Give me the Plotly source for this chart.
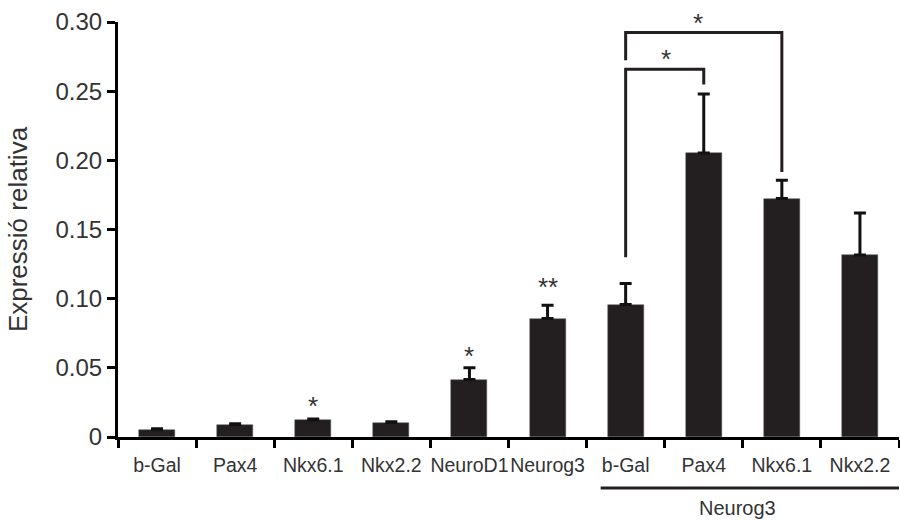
import plotly.graph_objects as go

# ---- data ----
categories = ["b-Gal", "Pax4", "Nkx6.1", "Nkx2.2", "NeuroD1", "Neurog3",
              "b-Gal", "Pax4", "Nkx6.1", "Nkx2.2"]
values = [0.0054, 0.0090, 0.0125, 0.0104, 0.0415, 0.0856,
          0.0957, 0.2053, 0.1724, 0.1316]
err_upper = [0.0006, 0.0006, 0.0006, 0.0006, 0.0086, 0.0096,
             0.0153, 0.0427, 0.0132, 0.0304]
sig_labels = ["", "", "*", "", "*", "**", "", "", "", ""]
sig_y = [None, None, 0.0270, None, 0.0632, 0.1128, None, None, None, None]

y_max = 0.30
y_tickvals = [0, 0.05, 0.10, 0.15, 0.20, 0.25, 0.30]
y_ticktext = ["0", "0.05", "0.10", "0.15", "0.20", "0.25", "0.30"]

group_label = "Neurog3"
group_first, group_last = 6, 9

# significance brackets: (left idx, right idx, top, left leg end, right leg end, label, label x, label y)
brackets = [
    (6, 8, 0.2924, 0.2724, 0.1916, "*", 6.92, 0.3035),
    (6, 7, 0.2658, 0.1300, 0.2548, "*", 6.52, 0.2774),
]

BAR = "#231f20"
TXT = "#333333"
FONT = "Liberation Sans, Arial, sans-serif"

x = list(range(len(categories)))

fig = go.Figure()
fig.add_trace(go.Bar(
    x=x, y=values, width=0.46,
    marker=dict(color=BAR, line=dict(color="#555555", width=0.5)),
    error_y=dict(type="data", array=err_upper,
                 arrayminus=[0] * len(values), symmetric=False,
                 color="#111111", thickness=3, width=6),
    hoverinfo="skip",
))

annotations = []
for xi, lab, yy in zip(x, sig_labels, sig_y):
    if lab:
        annotations.append(dict(x=xi, y=yy / y_max, xref="x", yref="paper", text=lab,
                                showarrow=False, yanchor="middle", yshift=-6,
                                font=dict(family=FONT, size=26, color=TXT)))

shapes = []
for (a, b, top, lend, rend, lab, lx, ly) in brackets:
    shapes.append(dict(type="path", xref="x", yref="y",
                       path=f"M {a},{lend} L {a},{top} L {b},{top} L {b},{rend}",
                       line=dict(color=BAR, width=3)))
    annotations.append(dict(x=lx, y=ly / y_max, xref="x", yref="paper", text=lab,
                            showarrow=False, yanchor="middle", yshift=-6,
                            font=dict(family=FONT, size=26, color=TXT)))

# group line under the last four categories
shapes.append(dict(type="line", xref="x", yref="paper",
                   x0=group_first - 0.32, x1=group_last + 0.5,
                   y0=-0.123, y1=-0.123,
                   line=dict(color=BAR, width=3)))
annotations.append(dict(x=(group_first + group_last) / 2 - 0.07, y=-0.171,
                        xref="x", yref="paper", text=group_label,
                        showarrow=False, yanchor="middle",
                        font=dict(family=FONT, size=20, color=TXT)))

fig.update_layout(
    width=900, height=521,
    margin=dict(l=118, r=1, t=22, b=84),
    paper_bgcolor="white", plot_bgcolor="white",
    showlegend=False, bargap=0,
    font=dict(family=FONT, color=TXT),
    shapes=shapes, annotations=annotations,
)
fig.update_xaxes(
    range=[-0.5, 9.5], tickmode="array", tickvals=x, ticktext=categories,
    tickangle=0,
    ticks="outside", ticklen=9, tickcolor="rgba(0,0,0,0)",
    minor=dict(tickmode="linear", tick0=-0.5, dtick=1, ticks="outside",
               ticklen=8, tickwidth=3, tickcolor="black"),
    showline=True, linecolor="black", linewidth=3,
    showgrid=False, zeroline=False,
    tickfont=dict(family=FONT, size=19.5, color=TXT),
)
fig.update_yaxes(
    range=[0, y_max], tickmode="array", tickvals=y_tickvals, ticktext=y_ticktext,
    ticks="outside", ticklen=8, tickwidth=3, tickcolor="black",
    showline=True, linecolor="black", linewidth=3,
    showgrid=False, zeroline=False,
    tickfont=dict(family=FONT, size=24, color=TXT),
    title=dict(text="Expressió relativa", standoff=21,
               font=dict(family=FONT, size=26, color=TXT)),
)

fig.write_html("out.html", config={"displayModeBar": False},
               post_script="document.body.style.margin='0';document.body.style.overflow='hidden';")
